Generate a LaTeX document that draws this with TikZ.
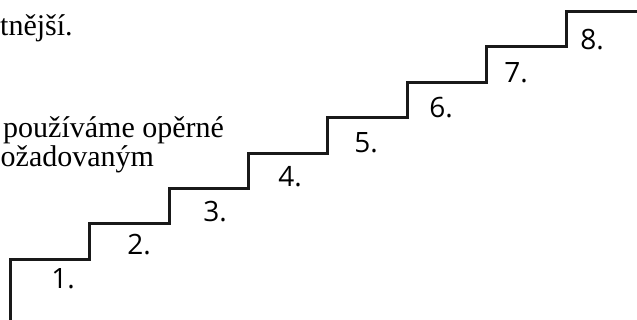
\documentclass[tikz,border=0pt]{standalone}
\usepackage{fontspec}
\setmainfont{Liberation Serif}
\newfontfamily\labelfont{Open Sans}
\begin{document}
\begin{tikzpicture}[x=1pt,y=1pt,
  stair/.style={line width=3pt,line join=miter,draw=black!90},
  steplabel/.style={font=\labelfont\fontsize{28}{30}\selectfont,inner sep=0pt,anchor=base},
  bodytext/.style={font=\fontsize{30}{30}\selectfont,inner sep=0pt,anchor=base west}]
\useasboundingbox (0,0) rectangle (637,320);
% text fragments
\node[bodytext] (t1) at (0,284) {tnější.};
\node[bodytext] (t2) at (3,182) {používáme opěrné};
\node[bodytext] (t3) at (0.5,153) {ožadovaným};
% staircase corners
\coordinate (s0) at (10,0);
\coordinate (a1) at (10,60);   \coordinate (b1) at (89,60);
\coordinate (a2) at (89,96);   \coordinate (b2) at (169,96);
\coordinate (a3) at (169,131); \coordinate (b3) at (248,131);
\coordinate (a4) at (248,166); \coordinate (b4) at (327,166);
\coordinate (a5) at (327,202); \coordinate (b5) at (407,202);
\coordinate (a6) at (407,237); \coordinate (b6) at (486,237);
\coordinate (a7) at (486,273); \coordinate (b7) at (566,273);
\coordinate (a8) at (566,308); \coordinate (b8) at (640,308);
\draw[stair] (s0) -- (a1) -- (b1) -- (a2) -- (b2) -- (a3) -- (b3) -- (a4) -- (b4)
  -- (a5) -- (b5) -- (a6) -- (b6) -- (a7) -- (b7) -- (a8) -- (b8);
% labels
\node[steplabel] (l1) at (63,31) {1.};
\node[steplabel] (l2) at (139,65) {2.};
\node[steplabel] (l3) at (215,98) {3.};
\node[steplabel] (l4) at (290,133) {4.};
\node[steplabel] (l5) at (366,167) {5.};
\node[steplabel] (l6) at (441,202) {6.};
\node[steplabel] (l7) at (516,237) {7.};
\node[steplabel] (l8) at (592,270) {8.};
\end{tikzpicture}
\end{document}
